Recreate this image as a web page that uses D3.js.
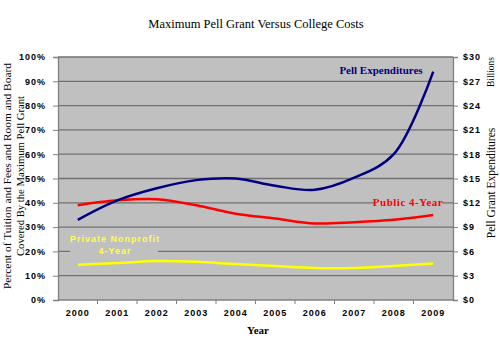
<!DOCTYPE html>
<html><head><meta charset="utf-8">
<script src="https://cdn.jsdelivr.net/npm/d3@7"></script>
<style>body{margin:0;background:#fff}svg{display:block}</style>
</head><body>
<svg id="chart" width="500" height="354"></svg>
<script>
const years = ["2000","2001","2002","2003","2004","2005","2006","2007","2008","2009"];
const pellBillions = [9.9, 12.3, 13.8, 14.8, 15.0, 14.1, 13.6, 15.1, 18.0, 28.2];
const public4 = [39, 41, 41.5, 39, 35.5, 33.5, 31.5, 32, 33, 35];
const private4 = [14.5, 15.2, 16, 15.7, 14.8, 14, 13.2, 13.2, 14, 15];
const leftTicks = [0,10,20,30,40,50,60,70,80,90,100];
const rightTicks = [0,3,6,9,12,15,18,21,24,27,30];

const svg = d3.select("#chart");
const L = 58, R = 453, T = 57, B = 300;
const x = d3.scaleBand().domain(years).range([L, R]);
const yL = d3.scaleLinear().domain([0,100]).range([B, T]);
const yR = d3.scaleLinear().domain([0,30]).range([B, T]);
const cx = d => x(d) + x.bandwidth()/2;

svg.append("rect").attr("x", L).attr("y", T).attr("width", R-L).attr("height", B-T).attr("fill", "#c0c0c0");

// gridlines
svg.append("g").selectAll("line").data(leftTicks.filter(d=>d>0)).join("line")
  .attr("x1", L).attr("x2", R).attr("y1", d=>yL(d)).attr("y2", d=>yL(d))
  .attr("stroke", "#707070").attr("stroke-width", 1.3);

// axes
const tickFont = "Liberation Sans, Arial, sans-serif";
const gL = svg.append("g").attr("transform", `translate(${L},0)`)
  .call(d3.axisLeft(yL).tickValues(leftTicks).tickFormat(d=>d+"%").tickSize(5).tickPadding(7));
const gR = svg.append("g").attr("transform", `translate(${R},0)`)
  .call(d3.axisRight(yR).tickValues(rightTicks).tickFormat(d=>"$"+d).tickSize(5).tickPadding(5));
const gB = svg.append("g").attr("transform", `translate(0,${B})`)
  .call(d3.axisBottom(x).tickSize(0).tickPadding(10));
// bottom ticks between categories
svg.append("g").selectAll("line").data(years.slice(1)).join("line")
  .attr("x1", d=>x(d)).attr("x2", d=>x(d)).attr("y1", B).attr("y2", B+4)
  .attr("stroke", "#808080");
[gL, gR, gB].forEach(g => {
  g.selectAll(".domain").attr("stroke", "#808080").attr("stroke-width", 1.3);
  g.selectAll(".tick line").attr("stroke", "#808080");
  g.selectAll("text").attr("font-family", tickFont).attr("font-size", 9).attr("font-weight", "bold")
    .attr("fill", "#000").attr("letter-spacing", "1px");
});
gB.select(".domain").attr("d", `M${L},0H${R}`);

// label backgrounds (cover gridlines)
svg.append("rect").attr("x", 70).attr("y", 231).attr("width", 88).attr("height", 26).attr("fill", "#c0c0c0");
svg.append("rect").attr("x", 374).attr("y", 195).attr("width", 68).attr("height", 14).attr("fill", "#c0c0c0");

// lines
const curve = d3.curveCatmullRom.alpha(0.5);
const lineL = d3.line().x((d,i)=>cx(years[i])).y(d=>yL(d)).curve(curve);
const lineR = d3.line().x((d,i)=>cx(years[i])).y(d=>yR(d)).curve(curve);
svg.append("path").attr("d", lineL(private4)).attr("fill","none").attr("stroke","#ffff00").attr("stroke-width",2.5);
svg.append("path").attr("d", lineL(public4)).attr("fill","none").attr("stroke","#ff0000").attr("stroke-width",2.5);
svg.append("path").attr("d", lineR(pellBillions)).attr("fill","none").attr("stroke","#000080").attr("stroke-width",2.5);

// series labels
const serif = "Liberation Serif, Times New Roman, serif";
svg.append("text").attr("x", 381).attr("y", 74).attr("text-anchor","middle")
  .attr("font-family", serif).attr("font-size", 11).attr("font-weight","bold").attr("fill","#000080")
  .text("Pell Expenditures");
svg.append("text").attr("x", 408).attr("y", 206).attr("text-anchor","middle")
  .attr("font-family", serif).attr("font-size", 11).attr("font-weight","bold").attr("fill","#ff0000")
  .attr("letter-spacing","0.5px").text("Public 4-Year");
const pt = svg.append("text").attr("text-anchor","middle")
  .attr("font-family", tickFont).attr("font-size", 9).attr("font-weight","bold").attr("fill","#ffff44")
  .attr("letter-spacing","1px");
pt.append("tspan").attr("x", 115).attr("y", 242).text("Private Nonprofit");
pt.append("tspan").attr("x", 115).attr("y", 254).text("4-Year");

// titles
svg.append("text").attr("x", 256).attr("y", 28).attr("text-anchor","middle")
  .attr("font-family", serif).attr("font-size", 12.5).attr("fill","#000")
  .text("Maximum Pell Grant Versus College Costs");
svg.append("text").attr("x", 258).attr("y", 334).attr("text-anchor","middle")
  .attr("font-family", serif).attr("font-size", 11).attr("font-weight","bold").attr("fill","#000")
  .text("Year");
const lt = svg.append("text").attr("transform","translate(0,176) rotate(-90)").attr("text-anchor","middle")
  .attr("font-family", serif).attr("font-size", 10.8).attr("fill","#000");
lt.append("tspan").attr("x",0).attr("y",11).attr("textLength",226).attr("lengthAdjust","spacingAndGlyphs")
  .text("Percent of Tuition and Fees and Room and Board");
lt.append("tspan").attr("x",0).attr("y",24).attr("textLength",160).attr("lengthAdjust","spacingAndGlyphs")
  .text("Covered By the Maximum Pell Grant");
svg.append("text").attr("transform","translate(495,183) rotate(-90)").attr("text-anchor","middle")
  .attr("font-family", serif).attr("font-size", 11.5).attr("fill","#000").text("Pell Grant Expenditures");
svg.append("text").attr("transform","translate(494,72) rotate(-90)").attr("text-anchor","middle")
  .attr("font-family", serif).attr("font-size", 9.5).attr("fill","#000").text("Billions");
</script>
</body></html>
